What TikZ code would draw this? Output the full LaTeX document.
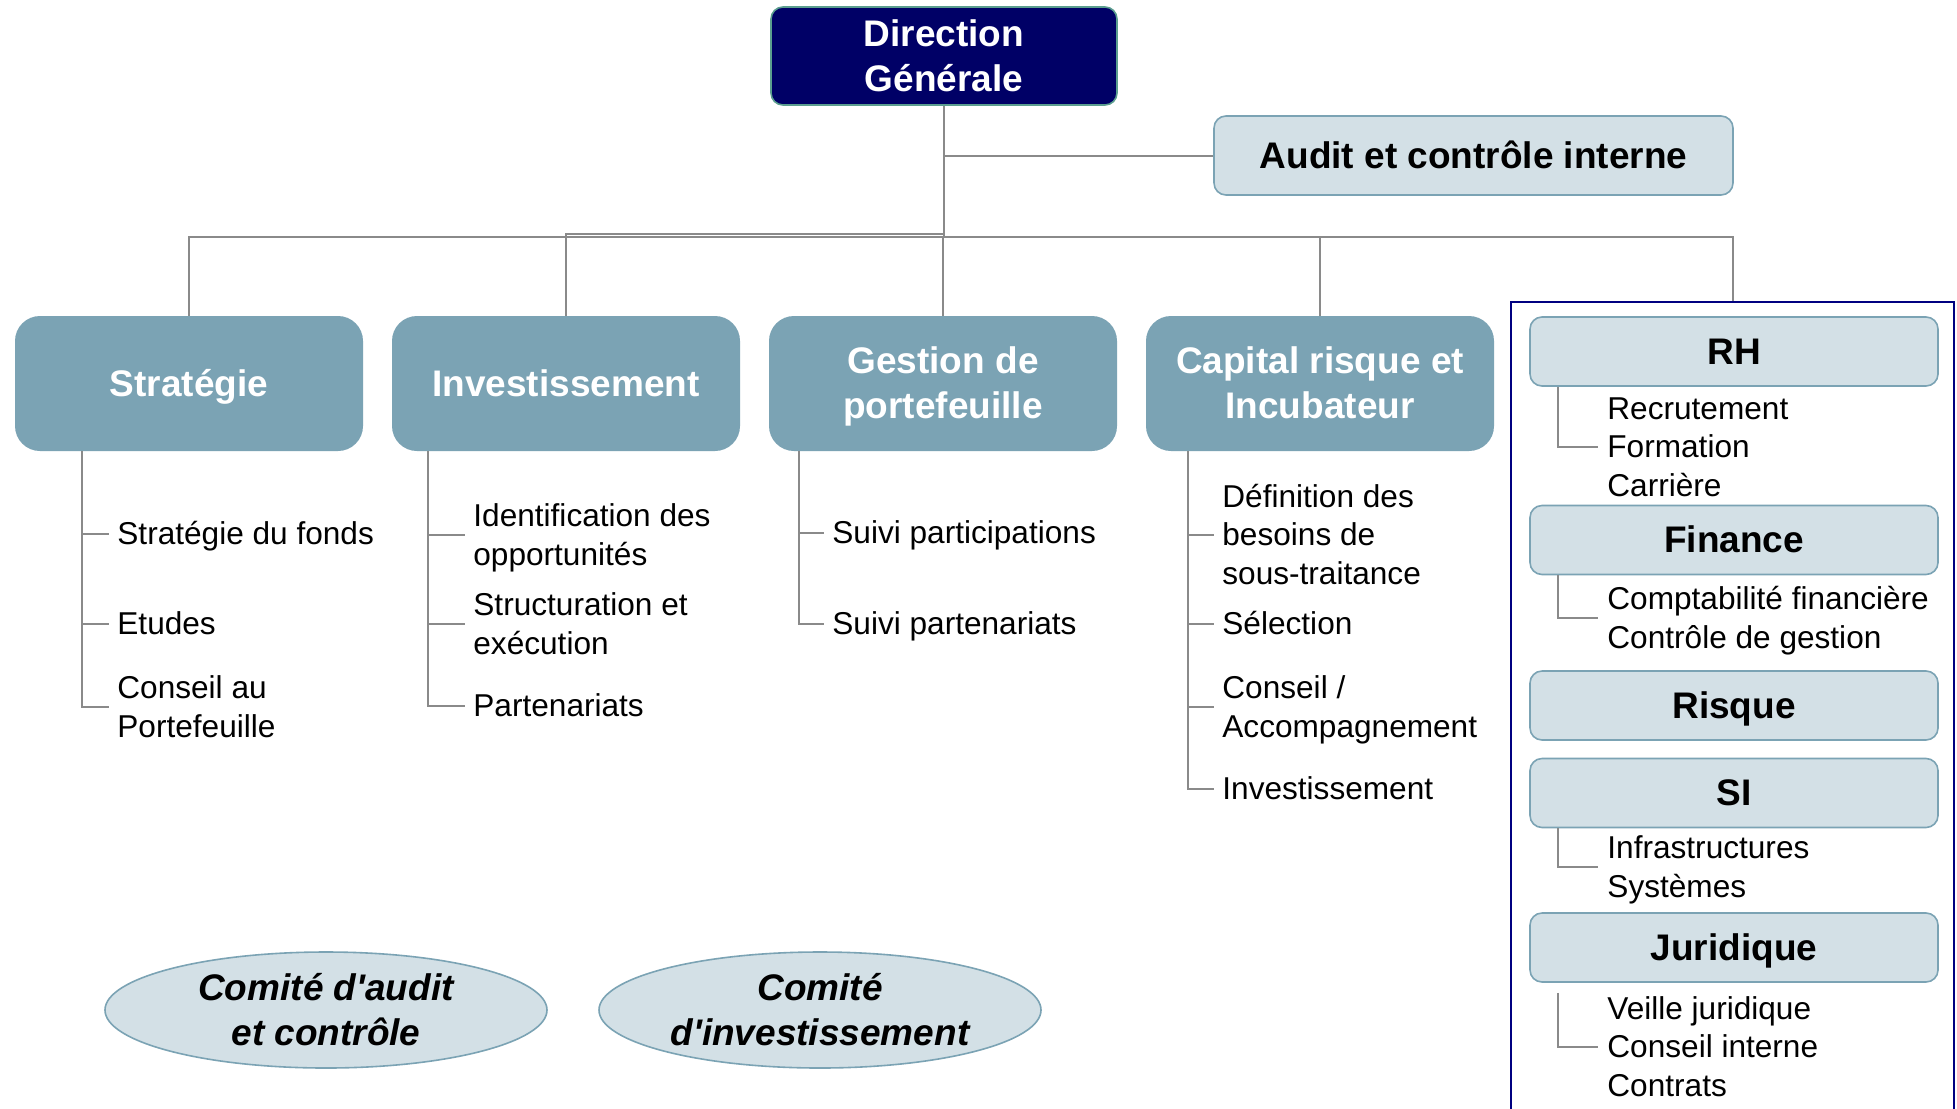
\documentclass[tikz,border=0pt]{standalone}
\usepackage{fontspec}
\setmainfont{Liberation Sans}
\usetikzlibrary{shapes.geometric}
\definecolor{navy}{HTML}{000066}
\definecolor{dgborder}{HTML}{5B9E8F}
\definecolor{midblue}{HTML}{7BA3B4}
\definecolor{lightblue}{HTML}{D3E0E6}
\definecolor{conngray}{HTML}{8A8A8A}
\definecolor{framenavy}{HTML}{000080}
\newcommand\ms{\rule[-0.212em]{0pt}{1.117em}}
\begin{document}
\begin{tikzpicture}[x=0.5pt,y=-0.5pt,
 conn/.style={draw=conngray,line width=1pt},
 headfont/.style={font=\fontsize{18.5}{22.5}\selectfont\bfseries},
 itemfont/.style={font=\fontsize{15.8}{19.4}\selectfont},
 dgbox/.style={rectangle,rounded corners=6pt,fill=navy,draw=dgborder,line width=0.8pt,text=white,headfont,align=center,minimum width=173pt,minimum height=49pt,inner sep=0pt},
 lvlbox/.style={rectangle,rounded corners=12.5pt,fill=midblue,text=white,headfont,align=center,minimum width=174pt,minimum height=67.5pt,inner sep=0pt},
 lightbox/.style={rectangle,rounded corners=6pt,fill=lightblue,draw=midblue,line width=0.8pt,text=black,headfont,align=center,inner sep=0pt},
 supbox/.style={lightbox,minimum width=204pt,minimum height=34.5pt},
 item/.style={itemfont,align=left,anchor=west,inner sep=0pt},
 comite/.style={ellipse,fill=lightblue,draw=midblue,line width=0.8pt,minimum width=221pt,minimum height=58pt,inner xsep=0pt,inner ysep=-3pt,align=center,font=\fontsize{18.5}{22.5}\selectfont\bfseries\itshape}
]
\useasboundingbox[fill=white] (0,0) rectangle (1957,1108);

% top level
\node[dgbox] (dg) at (944,56) {\ms Direction\\\ms Générale};
\node[lightbox,minimum width=259.5pt,minimum height=39.5pt] (audit) at (1473.5,155.5) {\ms Audit et contrôle interne};

% second level
\node[lvlbox] (strat) at (189,383.5) {\ms Stratégie};
\node[lvlbox] (inv) at (566,383.5) {\ms Investissement};
\node[lvlbox] (gest) at (943,383.5) {\ms Gestion de\\\ms portefeuille};
\node[lvlbox] (cap) at (1320,383.5) {\ms Capital risque et\\\ms Incubateur};

% support frame
\node[draw=framenavy,line width=1pt,minimum width=221.5pt,minimum height=412pt,anchor=north,inner sep=0pt] (support) at (1732.5,301) {};
\node[supbox] (rh) at (1734,351.5) {\ms RH};
\node[supbox] (fin) at (1734,540) {\ms Finance};
\node[supbox] (risk) at (1734,705.5) {\ms Risque};
\node[supbox] (si) at (1734,793) {\ms SI};
\node[supbox] (jur) at (1734,947.5) {\ms Juridique};

\node[item] (rhi) at (1607,447) {\ms Recrutement\\\ms Formation\\\ms Carrière};
\node[item] (fini) at (1607,618) {\ms Comptabilité financière\\\ms Contrôle de gestion};
\node[item] (sii) at (1607,867) {\ms Infrastructures\\\ms Systèmes};
\node[item] (juri) at (1607,1047) {\ms Veille juridique\\\ms Conseil interne\\\ms Contrats};

% column items
\node[item] (s1) at (117,534) {\ms Stratégie du fonds};
\node[item] (s2) at (117,624) {\ms Etudes};
\node[item] (s3) at (117,707) {\ms Conseil au\\\ms Portefeuille};
\node[item] (i1) at (473,535) {\ms Identification des\\\ms opportunités};
\node[item] (i2) at (473,624) {\ms Structuration et\\\ms exécution};
\node[item] (i3) at (473,706) {\ms Partenariats};
\node[item] (g1) at (832,533) {\ms Suivi participations};
\node[item] (g2) at (832,624) {\ms Suivi partenariats};
\node[item] (c1) at (1222,535) {\ms Définition des\\\ms besoins de\\\ms sous-traitance};
\node[item] (c2) at (1222,624) {\ms Sélection};
\node[item] (c3) at (1222,707) {\ms Conseil /\\\ms Accompagnement};
\node[item] (c4) at (1222,789) {\ms Investissement};

% committees
\node[comite] (ca) at (326,1010) {\ms Comité d\textquotesingle audit\\\ms et contrôle};
\node[comite] (ci) at (820,1010) {\ms Comité\\\ms d\textquotesingle investissement};

% top connectors
\coordinate (busA) at (944,237);
\coordinate (busB) at (944,234);
\draw[conn] (dg.south) -- (busA);
\draw[conn] (dg.south |- audit.west) -- (audit.west);
\draw[conn] (busA) -| (strat.north);
\draw[conn] (busB) -| (inv.north);
\draw[conn] (busA) -| (gest.north);
\draw[conn] (busA) -| (cap.north);
\draw[conn] (busA) -| (support.north);

% column connectors
\coordinate (sv) at ([xshift=33.5pt]strat.south west);
\draw[conn] (sv) |- ([xshift=-4pt]s3.west);
\draw[conn] (sv |- s1.west) -- ([xshift=-4pt]s1.west);
\draw[conn] (sv |- s2.west) -- ([xshift=-4pt]s2.west);

\coordinate (iv) at ([xshift=18pt]inv.south west);
\draw[conn] (iv) |- ([xshift=-4pt]i3.west);
\draw[conn] (iv |- i1.west) -- ([xshift=-4pt]i1.west);
\draw[conn] (iv |- i2.west) -- ([xshift=-4pt]i2.west);

\coordinate (gv) at ([xshift=15pt]gest.south west);
\draw[conn] (gv) |- ([xshift=-4pt]g2.west);
\draw[conn] (gv |- g1.west) -- ([xshift=-4pt]g1.west);

\coordinate (cv) at ([xshift=21pt]cap.south west);
\draw[conn] (cv) |- ([xshift=-4pt]c4.west);
\draw[conn] (cv |- c1.west) -- ([xshift=-4pt]c1.west);
\draw[conn] (cv |- c2.west) -- ([xshift=-4pt]c2.west);
\draw[conn] (cv |- c3.west) -- ([xshift=-4pt]c3.west);

% support connectors
\coordinate (rhv) at ([xshift=14.5pt]rh.south west);
\draw[conn] (rhv) |- ([xshift=-4.5pt]rhi.west);
\coordinate (finv) at ([xshift=14.5pt]fin.south west);
\draw[conn] (finv) |- ([xshift=-4.5pt]fini.west);
\coordinate (siv) at ([xshift=14.5pt]si.south west);
\draw[conn] (siv) |- ([xshift=-4.5pt]sii.west);
\coordinate (jurv) at ([xshift=14.5pt,yshift=-5pt]jur.south west);
\draw[conn] (jurv) |- ([xshift=-4.5pt]juri.west);
\end{tikzpicture}
\end{document}
